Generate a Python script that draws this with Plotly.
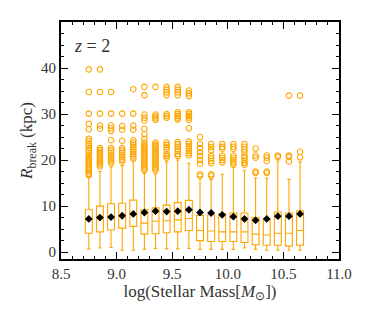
import plotly.graph_objects as go

# --- data ---
mass_bins = [8.75, 8.85, 8.95, 9.05, 9.15, 9.25, 9.35, 9.45, 9.55, 9.65,
             9.75, 9.85, 9.95, 10.05, 10.15, 10.25, 10.35, 10.45, 10.55, 10.65]
q1 = [4.1, 4.4, 4.8, 5.2, 5.6, 3.9, 4.0, 4.2, 4.4, 4.7,
      2.5, 2.3, 2.3, 2.3, 2.1, 1.6, 1.5, 1.5, 1.3, 1.5]
medians = [7.1, 7.3, 7.5, 7.8, 8.2, 6.3, 6.7, 6.8, 7.0, 7.3,
           4.7, 4.6, 4.4, 4.4, 4.4, 3.9, 3.7, 4.1, 4.1, 4.7]
q3 = [9.2, 10.0, 10.5, 10.6, 11.3, 9.2, 9.6, 10.2, 10.75, 11.25,
      7.96, 8.1, 8.3, 8.5, 8.5, 7.5, 7.2, 8.7, 8.5, 9.0]
lower_fence = [0.7, 0.9, 1.0, 0.4, 0.4, 0.6, 0.8, 0.7, 0.7, 0.8,
               0.6, 0.6, 0.6, 0.6, 0.9, 0.6, 0.4, 0.4, 0.4, 0.4]
upper_fence = [16.4, 17.5, 18.5, 18.8, 19.8, 17.1, 17.0, 19.6, 20.0, 19.3,
               16.0, 15.8, 16.9, 18.4, 17.8, 16.1, 16.1, 19.8, 15.8, 19.6]
means = [7.2, 7.5, 7.6, 7.9, 8.3, 8.6, 8.9, 8.8, 8.9, 9.2,
         8.6, 8.5, 8.1, 7.7, 7.2, 6.9, 7.2, 7.8, 7.8, 8.3]
mean_err = [0.5] * 20

outliers = {
    8.75: [39.7, 34.8, 30.1, 27.9, 26.7, 24.6, 24.1, 23.6, 23.1, 22.6, 22.1, 21.6, 21.1,
           20.6, 20.2, 19.8, 19.4, 19.0, 18.6, 18.2, 17.8, 17.4, 17.0, 16.7],
    8.85: [39.7, 34.8, 30.1, 27.5, 26.8, 22.6, 22.2, 21.8, 21.4, 21.0, 20.6, 20.2, 19.8,
           19.4, 19.0, 18.6],
    8.95: [34.8, 30.1, 27.5, 26.9, 26.3, 24.3, 22.6, 22.1, 21.6, 21.1, 20.6, 20.1, 19.7, 19.3],
    9.05: [30.1, 27.4, 26.6, 24.2, 22.6, 22.1, 21.6, 21.1, 20.6, 20.1, 19.7],
    9.15: [35.4, 30.1, 27.5, 26.6, 24.3, 23.8, 23.3, 22.8, 22.3, 21.8, 21.3, 20.8, 20.3],
    9.25: [35.9, 34.1, 29.9, 29.2, 28.6, 26.8, 25.6, 24.6, 23.8, 23.4, 23.0, 22.6, 22.2,
           21.8, 21.4, 21.0, 20.6, 20.2, 19.8, 19.4, 19.0, 18.6, 18.2, 17.8],
    9.35: [35.9, 29.9, 29.5, 29.1, 28.7, 23.8, 23.4, 23.0, 22.6, 22.2, 21.8, 21.4, 21.0,
           20.6, 20.2, 19.8, 19.4, 19.0, 18.6, 18.2, 17.8],
    9.45: [35.9, 35.3, 34.7, 34.1, 30.0, 29.6, 29.2, 23.8, 23.3, 22.8, 22.3, 21.3, 20.9, 20.5],
    9.55: [35.9, 35.3, 34.7, 34.1, 30.4, 30.0, 29.6, 29.2, 28.8, 23.9, 23.4, 22.9, 22.4,
           21.9, 21.3, 20.9],
    9.65: [35.1, 34.5, 33.9, 30.4, 30.0, 29.6, 29.2, 28.7, 26.9, 24.0, 23.5, 23.0, 22.5,
           22.0, 21.5, 21.0],
    9.75: [25.0, 23.5, 22.6, 21.7, 20.9, 20.0, 19.2, 16.9, 16.6],
    9.85: [23.5, 22.8, 22.1, 20.9, 20.4, 19.8, 19.3, 16.9, 16.6],
    9.95: [23.5, 22.9, 22.5, 21.0, 20.5, 20.0, 19.5],
    10.05: [23.5, 22.9, 22.4, 21.0, 20.5, 20.0, 19.5, 19.0],
    10.15: [23.5, 22.9, 22.3, 21.7, 21.0, 20.5, 19.9, 19.4, 19.0],
    10.25: [22.5, 21.0, 20.5, 17.5, 17.2],
    10.35: [21.0, 20.5, 19.8, 17.5, 17.2],
    10.45: [21.0, 20.7],
    10.55: [34.0, 21.0, 20.7, 19.7],
    10.65: [34.0, 21.8, 20.6],
}

x_ticks = [8.5, 9.0, 9.5, 10.0, 10.5, 11.0]
x_tick_labels = ["8.5", "9.0", "9.5", "10.0", "10.5", "11.0"]
y_ticks = [0, 10, 20, 30, 40]
y_tick_labels = ["0", "10", "20", "30", "40"]

ORANGE = "#FFA500"
FONT = "Liberation Serif"
TEXT = "#333333"

out_x, out_y = [], []
for k, vals in outliers.items():
    out_x += [k] * len(vals)
    out_y += vals

fig = go.Figure()
fig.add_trace(go.Box(
    x=mass_bins, q1=q1, median=medians, q3=q3,
    lowerfence=lower_fence, upperfence=upper_fence,
    width=0.062, whiskerwidth=0.5, boxpoints=False,
    line=dict(color=ORANGE, width=1.1), fillcolor="rgba(0,0,0,0)",
    showlegend=False, hoverinfo="skip",
))
fig.add_trace(go.Scatter(
    x=out_x, y=out_y, mode="markers",
    marker=dict(symbol="circle-open", size=5.5, color=ORANGE, line=dict(width=1.1, color=ORANGE)),
    showlegend=False,
))
fig.add_trace(go.Scatter(
    x=mass_bins, y=means, mode="markers",
    marker=dict(symbol="diamond", size=6, color="black"),
    error_y=dict(type="data", array=mean_err, color="black", thickness=1.3, width=0),
    showlegend=False,
))

axis_common = dict(
    showline=True, linecolor="black", linewidth=1.8, mirror="allticks",
    ticks="inside", ticklen=7, tickwidth=1.2, tickcolor="black",
    showgrid=False, zeroline=False,
    tickfont=dict(family=FONT, size=15, color=TEXT),
)

# the page body has an 8px default margin, so the figure is sized to fit the window
fig.update_layout(
    width=366, height=312,
    margin=dict(l=53, r=35, t=12, b=61),
    paper_bgcolor="white", plot_bgcolor="white",
    xaxis=dict(
        range=[8.5, 11.0], tickmode="array", tickvals=x_ticks, ticktext=x_tick_labels,
        minor=dict(dtick=0.1, ticks="inside", ticklen=3.5, tickwidth=1, tickcolor="black"),
        title=dict(text="log(Stellar Mass[<i>M</i><sub>⊙</sub>])",
                   font=dict(family=FONT, size=17, color=TEXT), standoff=0),
        **axis_common,
    ),
    yaxis=dict(
        range=[-1.5, 50], tickmode="array", tickvals=y_ticks, ticktext=y_tick_labels,
        minor=dict(tick0=0, dtick=2.5, ticks="inside", ticklen=3.5, tickwidth=1, tickcolor="black"),
        title=dict(text="<i>R</i><sub>break</sub> (kpc)",
                   font=dict(family=FONT, size=17, color=TEXT), standoff=4),
        **axis_common,
    ),
    annotations=[dict(
        x=0.04, y=0.95, xref="paper", yref="paper", xanchor="left", yanchor="top",
        text="<i>z</i> = 2", showarrow=False,
        font=dict(family=FONT, size=18, color=TEXT),
    )],
)

fig.write_html("out.html")
